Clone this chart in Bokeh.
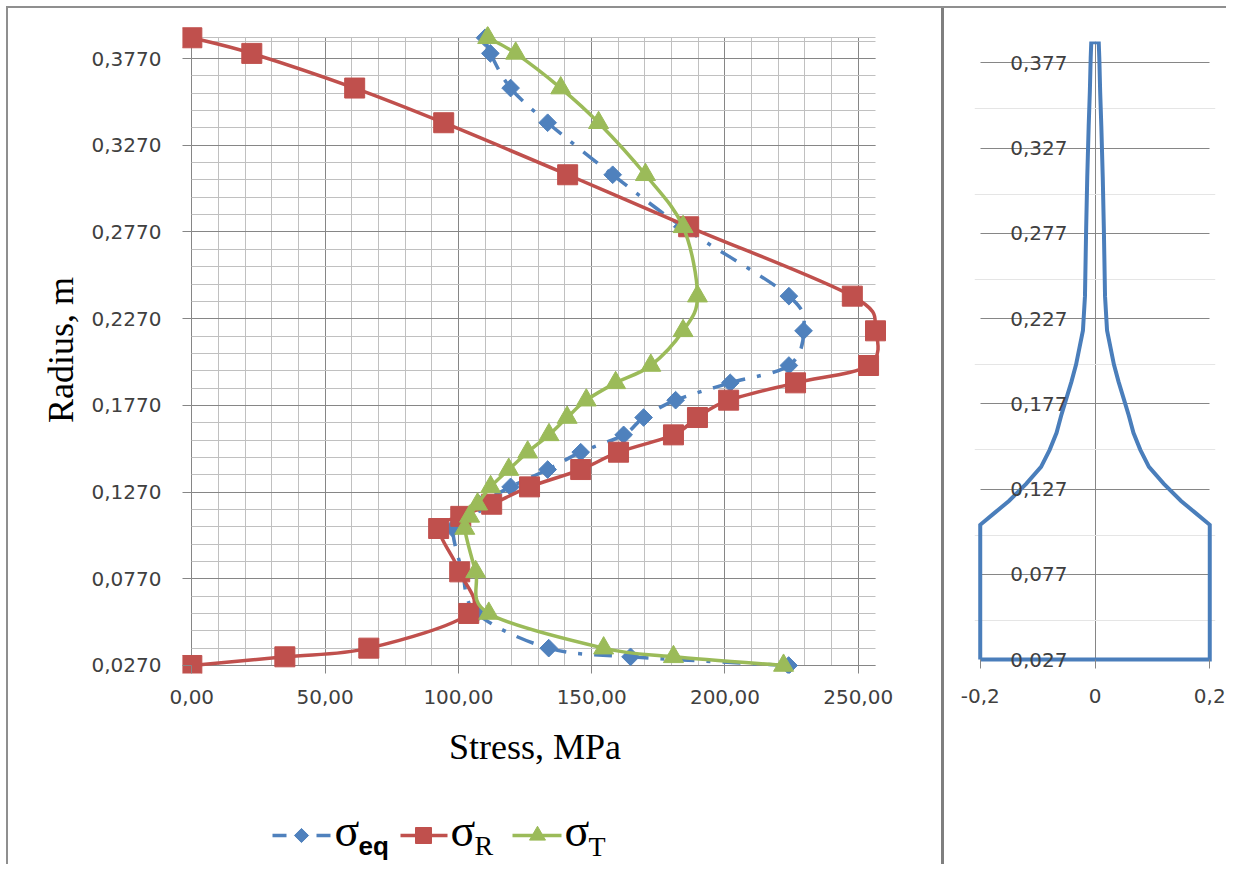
import numpy as np
from bokeh.plotting import figure
from bokeh.models import Range1d, FixedTicker, Grid, LabelSet, ColumnDataSource
from bokeh.layouts import row, column
from bokeh.core.properties import value
from bokeh.embed import file_html
from bokeh.resources import INLINE

# ---------------- data ----------------
radius = [0.389, 0.380, 0.360, 0.340, 0.310, 0.280, 0.240, 0.220, 0.200, 0.190,
          0.180, 0.170, 0.160, 0.150, 0.140, 0.130, 0.120, 0.113, 0.106, 0.081,
          0.057, 0.037, 0.032, 0.027]
sigma_eq = [110.0, 112.0, 119.6, 133.5, 157.9, 184.0, 224.0, 229.5, 224.0, 202.0,
            181.5, 169.5, 162.0, 145.9, 133.5, 119.6, 108.0, 102.7, 97.9, 101.5,
            107.0, 133.9, 164.6, 223.9]
sigma_R = [0.0, 22.5, 61.1, 94.5, 141.0, 186.4, 247.8, 256.5, 253.9, 226.5,
           201.4, 189.7, 180.7, 160.1, 145.9, 126.7, 112.5, 100.9, 92.6, 100.5,
           103.9, 66.4, 34.9, 0.0]
sigma_T = [111.0, 121.5, 138.4, 152.6, 170.2, 184.3, 189.7, 184.3, 172.2, 159.0,
           148.0, 140.8, 134.0, 126.0, 118.9, 112.1, 107.2, 104.2, 102.4, 106.5,
           111.4, 154.5, 180.7, 222.0]

x_ticks = [0, 50, 100, 150, 200, 250]
x_tick_labels = ["0,00", "50,00", "100,00", "150,00", "200,00", "250,00"]
y_ticks = [0.027, 0.077, 0.127, 0.177, 0.227, 0.277, 0.327, 0.377]
y_tick_labels = ["0,0270", "0,0770", "0,1270", "0,1770", "0,2270", "0,2770", "0,3270", "0,3770"]
x_max = 256.5
y_min, y_max = 0.027, 0.389

# blade profile (half width vs radius), right panel
blade_r = [0.389, 0.380, 0.360, 0.340, 0.310, 0.280, 0.240, 0.220, 0.200, 0.190,
           0.180, 0.170, 0.160, 0.150, 0.140, 0.130, 0.120, 0.113, 0.106, 0.027]
blade_w = [0.0065, 0.0075, 0.009, 0.011, 0.0135, 0.0154, 0.0175, 0.021, 0.033, 0.041,
           0.050, 0.059, 0.067, 0.079, 0.094, 0.120, 0.150, 0.175, 0.200, 0.200]
r_ticks = [0.027, 0.077, 0.127, 0.177, 0.227, 0.277, 0.327, 0.377]
r_tick_labels = ["0,027", "0,077", "0,127", "0,177", "0,227", "0,277", "0,327", "0,377"]
w_ticks = [-0.2, 0, 0.2]
w_tick_labels = ["-0,2", "0", "0,2"]

legend_names = ["σ", "σ", "σ"]
legend_subs = ["eq", "R", "T"]

BLUE = "#4F81BD"
RED = "#C0504D"
GREEN = "#9BBB59"
BLADE = "#4A7EBB"
MAJOR = "#868686"
MINOR = "#C0C0C0"
TXT = "#404040"
TICK_FONT = "DejaVu Sans"
SERIF = "Liberation Serif"


def smooth_segments(xs, ys, t=1.0 / 6.0):
    xs = np.asarray(xs, float)
    ys = np.asarray(ys, float)
    n = len(xs)
    out = {k: [] for k in ("x0", "y0", "x1", "y1", "cx0", "cy0", "cx1", "cy1")}
    for i in range(n - 1):
        im = max(i - 1, 0)
        ip2 = min(i + 2, n - 1)
        out["x0"].append(xs[i]); out["y0"].append(ys[i])
        out["x1"].append(xs[i + 1]); out["y1"].append(ys[i + 1])
        out["cx0"].append(xs[i] + t * (xs[i + 1] - xs[im]))
        out["cy0"].append(ys[i] + t * (ys[i + 1] - ys[im]))
        out["cx1"].append(xs[i + 1] - t * (xs[ip2] - xs[i]))
        out["cy1"].append(ys[i + 1] - t * (ys[ip2] - ys[i]))
    return out


ML, MR = 174, 54  # side borders shared by main chart and legend strip

# ---------------- main chart ----------------
p = figure(width=933, height=776, x_range=Range1d(-3.5, 261.0),
           y_range=Range1d(0.02238, 0.3955), output_backend="svg",
           toolbar_location=None, min_border_left=ML, min_border_right=MR,
           min_border_top=18, min_border_bottom=111)
p.outline_line_color = None
p.background_fill_color = "white"
p.border_fill_color = "white"

x_minor = [float(v) for v in np.arange(0, 251, 10)]
y_minor = [round(float(v), 4) for v in np.arange(0.027, 0.3885, 0.01)] + [y_max]

p.xaxis.ticker = FixedTicker(ticks=x_ticks, minor_ticks=x_minor)
p.yaxis.ticker = FixedTicker(ticks=y_ticks, minor_ticks=y_minor)
p.xaxis.major_label_overrides = dict(zip(x_ticks, x_tick_labels))
p.yaxis.major_label_overrides = dict(zip(y_ticks, y_tick_labels))
for ax in (p.xaxis, p.yaxis):
    ax.axis_line_color = None
    ax.minor_tick_line_color = None
    ax.major_tick_line_color = MAJOR
    ax.major_tick_out = 0
    ax.major_label_text_font = TICK_FONT
    ax.major_label_text_font_size = "20px"
    ax.major_label_text_color = TXT
    ax.axis_label_text_font = SERIF
    ax.axis_label_text_font_style = "normal"
    ax.axis_label_text_font_size = "36px"
    ax.axis_label_text_color = "#000000"
p.xaxis.major_tick_in = 8
p.yaxis.major_tick_in = 9
p.xaxis.major_label_standoff = 12
p.yaxis.major_label_standoff = 17
p.xaxis.axis_label = "Stress, MPa"
p.yaxis.axis_label = "Radius, m"
p.xaxis.axis_label_standoff = 20
p.yaxis.axis_label_standoff = 8

p.xgrid.ticker = FixedTicker(ticks=x_ticks, minor_ticks=x_minor)
p.ygrid.ticker = FixedTicker(ticks=y_ticks, minor_ticks=y_minor)
for g, b, cb in ((p.xgrid, (0, x_max), (y_min, y_max)), (p.ygrid, (y_min, y_max), (0, x_max))):
    g.bounds = b
    g.cross_bounds = cb
    g.grid_line_color = MAJOR
    g.grid_line_width = 1
    g.minor_grid_line_color = MINOR
    g.minor_grid_line_width = 1
    g.level = "underlay"

seg = smooth_segments(sigma_eq, radius)
p.bezier(line_color=BLUE, line_width=3.5, line_dash="18 12 4 12", **seg)
p.scatter(sigma_eq, radius, marker="square", angle=np.pi / 4, size=12.5,
          fill_color=BLUE, line_color=BLUE)

seg = smooth_segments(sigma_R, radius)
p.bezier(line_color=RED, line_width=3.5, **seg)
p.scatter(sigma_R, radius, marker="square", size=20, fill_color=RED, line_color=RED)

seg = smooth_segments(sigma_T, radius)
p.bezier(line_color=GREEN, line_width=3.5, **seg)
p.scatter(sigma_T, radius, marker="triangle", size=20, fill_color=GREEN, line_color=GREEN)

# ---------------- legend strip (data units = page pixels) ----------------
LEG_TOP, LEG_H = 784, 80
leg = figure(width=933, height=LEG_H, x_range=Range1d(8 + ML, 8 + 933 - MR),
             y_range=Range1d(LEG_TOP + LEG_H, LEG_TOP),
             output_backend="svg", toolbar_location=None,
             min_border_left=ML, min_border_right=MR, min_border_top=0, min_border_bottom=0,
             x_axis_location=None, y_axis_location=None)
leg.grid.visible = False
leg.outline_line_color = None
leg.border_fill_color = "white"
leg.background_fill_color = "white"
ly = 835
leg.segment(x0=[272, 316], y0=[ly, ly], x1=[286, 330], y1=[ly, ly], line_color=BLUE, line_width=3.5)
leg.scatter([301], [ly], marker="square", angle=np.pi / 4, size=10, fill_color=BLUE, line_color=BLUE)
leg.segment(x0=[400], y0=[ly], x1=[447], y1=[ly], line_color=RED, line_width=3.5)
leg.scatter([423], [ly], marker="square", size=16, fill_color=RED, line_color=RED)
leg.segment(x0=[512], y0=[ly], x1=[561], y1=[ly], line_color=GREEN, line_width=3.5)
leg.scatter([537], [ly], marker="triangle", size=16, fill_color=GREEN, line_color=GREEN)
leg.text(x=[334, 450, 564], y=[830, 830, 830], text=legend_names,
         text_font=value(SERIF), text_font_size="46px", text_baseline="middle",
         text_align="left", text_color="#000000")
leg.text(x=[358], y=[845], text=legend_subs[:1], text_font=value("Liberation Sans"),
         text_font_size="26px", text_font_style="bold", text_baseline="middle",
         text_align="left", text_color="#000000")
leg.text(x=[474, 588], y=[845, 846], text=legend_subs[1:], text_font=value(SERIF),
         text_font_size="28px", text_baseline="middle", text_align="left",
         text_color="#000000")

# ---------------- right panel: blade shape ----------------
pr = figure(width=285, height=856, x_range=Range1d(-0.21, 0.21),
            y_range=Range1d(0.02173, 0.3895), output_backend="svg",
            toolbar_location=None, y_axis_location=None,
            min_border_left=30, min_border_right=14, min_border_top=33, min_border_bottom=196)
pr.outline_line_color = None
pr.border_fill_color = "white"
pr.xaxis.ticker = FixedTicker(ticks=w_ticks)
pr.xaxis.major_label_overrides = dict(zip(w_ticks, w_tick_labels))
pr.xaxis.axis_line_color = None
pr.xaxis.minor_tick_line_color = None
pr.xaxis.major_tick_line_color = MAJOR
pr.xaxis.major_tick_out = 0
pr.xaxis.major_tick_in = 9
pr.xaxis.major_label_standoff = 20
pr.xaxis.major_label_text_font = TICK_FONT
pr.xaxis.major_label_text_font_size = "20px"
pr.xaxis.major_label_text_color = TXT
pr.xgrid.ticker = FixedTicker(ticks=[0])
pr.xgrid.cross_bounds = (y_min, 0.3895)
pr.xgrid.grid_line_color = MAJOR
pr.add_layout(Grid(dimension=1, ticker=FixedTicker(ticks=r_ticks), bounds=(y_min, 0.377),
                   cross_bounds=(-0.2, 0.2), grid_line_color=MAJOR, grid_line_width=1))

right_x = list(blade_w[::-1])
right_y = list(blade_r[::-1])
left_x = [-w for w in blade_w]
left_y = list(blade_r)
bx = [-blade_w[-1]] + right_x + left_x
by = [blade_r[-1]] + right_y + left_y
pr.line(bx, by, line_color=BLADE, line_width=4, line_join="miter")

lab_src = ColumnDataSource(dict(y=r_ticks, text=r_tick_labels))
pr.add_layout(LabelSet(x=-0.048, y="y", text="text", source=lab_src,
                       text_align="right", text_baseline="middle",
                       text_font=value(TICK_FONT), text_font_size="20px",
                       text_color=TXT))

pr.styles = {"border-left": "3px solid #7f7f7f"}

layout = row(column(p, leg), pr,
             styles={"border-top": "2px solid #8f8f8f", "border-left": "2px solid #8f8f8f",
                     "margin-top": "6px", "margin-left": "6px"})

open("out.html", "w").write(file_html(layout, INLINE))
